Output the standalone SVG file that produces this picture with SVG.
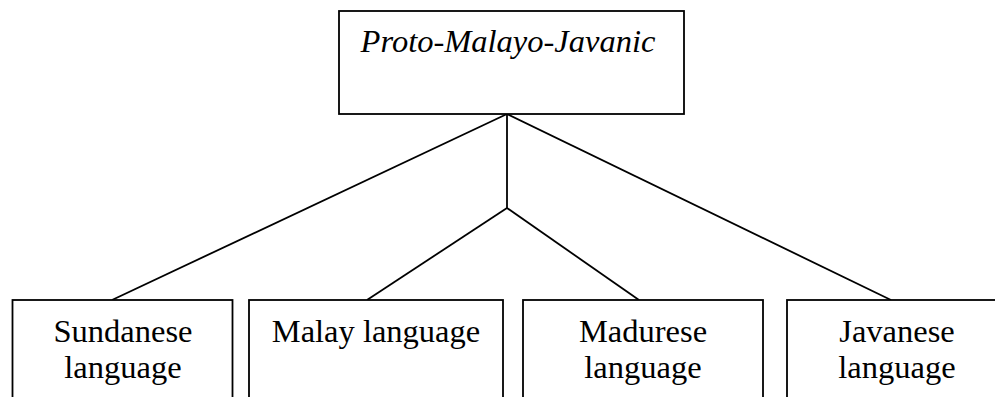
<svg xmlns="http://www.w3.org/2000/svg" width="995" height="397" viewBox="0 0 995 397">
<style>
.box{fill:#fff;stroke:#000;stroke-width:1.8}
.ln{fill:none;stroke:#000;stroke-width:1.8}
text{font-family:"Liberation Serif","DejaVu Serif",serif;font-size:32.5px;fill:#000;text-anchor:middle}
.it{font-style:italic}
</style>
<rect width="995" height="397" fill="#fff"/>
<g id="connectors">
<line class="ln" x1="507" y1="114" x2="112" y2="300"/>
<line class="ln" x1="507" y1="114" x2="891" y2="300"/>
<line class="ln" x1="507" y1="114" x2="507" y2="208"/>
<line class="ln" x1="507" y1="208" x2="367" y2="300"/>
<line class="ln" x1="507" y1="208" x2="639" y2="300"/>
</g>
<g id="root">
<rect class="box" x="339" y="11" width="345" height="103"/>
<text class="it" x="508" y="52">Proto-Malayo-Javanic</text>
</g>
<g id="sundanese">
<rect class="box" x="12.5" y="300" width="220" height="110"/>
<text x="123" y="342">Sundanese</text>
<text x="123" y="378">language</text>
</g>
<g id="malay">
<rect class="box" x="249" y="300" width="254" height="110"/>
<text x="376" y="342">Malay language</text>
</g>
<g id="madurese">
<rect class="box" x="523" y="300" width="240" height="110"/>
<text x="643" y="342">Madurese</text>
<text x="643" y="378">language</text>
</g>
<g id="javanese">
<rect class="box" x="787" y="300" width="230" height="110"/>
<text x="897" y="342">Javanese</text>
<text x="897" y="378">language</text>
</g>
</svg>
